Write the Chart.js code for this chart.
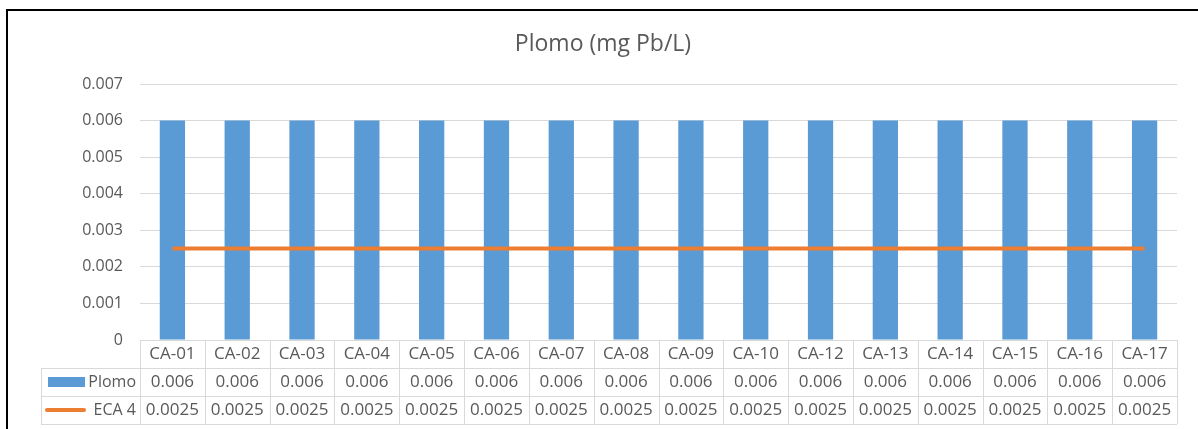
<!DOCTYPE html>
<html>
<head>
<meta charset="UTF-8">
<title>Plomo (mg Pb/L)</title>
<script src="https://cdn.jsdelivr.net/npm/chart.js"></script>
<style>
  html, body { margin: 0; padding: 0; background: #ffffff; }
  #wrap { width: 1198px; height: 429px; position: relative; }
</style>
</head>
<body>
<div id="wrap"><canvas id="chart" width="1198" height="429"></canvas></div>
<script>
const categories = ['CA-01', 'CA-02', 'CA-03', 'CA-04', 'CA-05', 'CA-06', 'CA-07', 'CA-08',
  'CA-09', 'CA-10', 'CA-12', 'CA-13', 'CA-14', 'CA-15', 'CA-16', 'CA-17'];
const plomo = [0.006, 0.006, 0.006, 0.006, 0.006, 0.006, 0.006, 0.006,
  0.006, 0.006, 0.006, 0.006, 0.006, 0.006, 0.006, 0.006];
const eca4 = [0.0025, 0.0025, 0.0025, 0.0025, 0.0025, 0.0025, 0.0025, 0.0025,
  0.0025, 0.0025, 0.0025, 0.0025, 0.0025, 0.0025, 0.0025, 0.0025];
const plomoLabels = plomo.map(v => String(v));
const eca4Labels = eca4.map(v => String(v));

const FONT = "'Open Sans', 'Liberation Sans', sans-serif";
const TEXT = '#595959';
const GRID = '#d9d9d9';
const BLUE = '#5b9bd5';
const ORANGE = '#ed7d31';

// draws frame, title and the data table under the plot
const tablePlugin = {
  id: 'dataTable',
  beforeDraw(chart) {
    const ctx = chart.ctx;
    ctx.save();
    ctx.fillStyle = '#000';
    ctx.fillRect(6, 9, 1192, 2);
    ctx.fillRect(6, 9, 2, 420);
    ctx.restore();
  },
  afterDraw(chart) {
    const ctx = chart.ctx;
    const area = chart.chartArea;
    const x = chart.scales.x;
    const n = categories.length;
    const colW = (area.right - area.left) / n;
    const rowH = 28;
    const top = area.bottom;
    const legLeft = 41;

    ctx.save();
    // title
    ctx.fillStyle = TEXT;
    ctx.font = '23px ' + FONT;
    ctx.textAlign = 'center';
    ctx.textBaseline = 'middle';
    ctx.fillText('Plomo (mg Pb/L)', 603, 44);

    // table grid
    ctx.strokeStyle = GRID;
    ctx.lineWidth = 1;
    ctx.beginPath();
    ctx.moveTo(area.left, top + 0.5); ctx.lineTo(area.right, top + 0.5);
    for (let r = 1; r <= 3; r++) {
      const y = Math.round(top + r * rowH) + 0.5;
      ctx.moveTo(legLeft, y); ctx.lineTo(area.right, y);
    }
    for (let i = 0; i <= n; i++) {
      const xx = Math.round(area.left + i * colW) + 0.5;
      ctx.moveTo(xx, top); ctx.lineTo(xx, top + 3 * rowH);
    }
    ctx.moveTo(legLeft + 0.5, top + rowH); ctx.lineTo(legLeft + 0.5, top + 3 * rowH);
    ctx.stroke();

    // cell text
    ctx.fillStyle = TEXT;
    ctx.font = '17px ' + FONT;
    ctx.textAlign = 'center';
    for (let i = 0; i < n; i++) {
      const cx = x.getPixelForValue(i);
      ctx.fillText(categories[i], cx, top + rowH * 0.5);
      ctx.fillText(plomoLabels[i], cx, top + rowH * 1.5);
      ctx.fillText(eca4Labels[i], cx, top + rowH * 2.5);
    }

    // legend keys
    ctx.fillStyle = BLUE;
    ctx.fillRect(48, top + rowH * 1.5 - 5, 37, 10);
    ctx.strokeStyle = ORANGE;
    ctx.lineWidth = 4;
    ctx.lineCap = 'round';
    ctx.beginPath();
    ctx.moveTo(47, top + rowH * 2.5); ctx.lineTo(84, top + rowH * 2.5);
    ctx.stroke();
    ctx.fillStyle = TEXT;
    ctx.font = '16px ' + FONT;
    ctx.textAlign = 'right';
    ctx.fillText('Plomo', 136, top + rowH * 1.5);
    ctx.fillText('ECA 4', 136, top + rowH * 2.5);
    ctx.restore();
  }
};

new Chart(document.getElementById('chart'), {
  data: {
    labels: categories,
    datasets: [
      {
        type: 'line',
        label: 'ECA 4',
        data: eca4,
        borderColor: ORANGE,
        backgroundColor: ORANGE,
        borderWidth: 4,
        pointRadius: 0,
        order: 0
      },
      {
        type: 'bar',
        label: 'Plomo',
        data: plomo,
        backgroundColor: BLUE,
        barPercentage: 0.39,
        categoryPercentage: 1,
        order: 1
      }
    ]
  },
  options: {
    responsive: false,
    animation: false,
    layout: { padding: { top: 84, right: 21, left: 0, bottom: 0 } },
    plugins: {
      legend: { display: false },
      title: { display: false },
      tooltip: { enabled: false }
    },
    scales: {
      x: {
        ticks: { display: false },
        grid: { display: false },
        border: { display: false },
        afterFit(scale) { scale.height = 89; }
      },
      y: {
        min: 0,
        max: 0.007,
        ticks: {
          stepSize: 0.001,
          color: TEXT,
          font: { family: FONT, size: 16 },
          padding: 17,
          callback: v => (Math.abs(v) < 1e-9 ? '0' : v.toFixed(3))
        },
        grid: { color: GRID, drawTicks: false, lineWidth: 1 },
        border: { display: false },
        afterFit(scale) { scale.width = 140; }
      }
    }
  },
  plugins: [tablePlugin]
});
</script>
</body>
</html>
